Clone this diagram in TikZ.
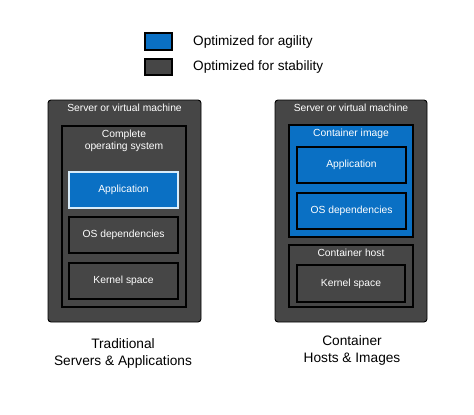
\documentclass[tikz,border=0pt]{standalone}
\usepackage{fontspec}
\setmainfont{Liberation Sans}
\usetikzlibrary{positioning}
\definecolor{agileblue}{HTML}{0A70C4}
\definecolor{stablegray}{HTML}{464646}
\definecolor{applight}{HTML}{D8ECFA}
\tikzset{
  layer/.style={draw=black, line width=1.3pt, inner sep=0pt, text=white,
    font=\fontsize{10.3}{12}\selectfont, align=center},
  agile/.style={layer, fill=agileblue},
  stable/.style={layer, fill=stablegray},
  server/.style={stable, line width=0.9pt, rounded corners=3pt},
  title/.style={text=white, font=\fontsize{10.3}{12}\selectfont, align=center, inner sep=0pt},
  legend/.style={font=\fontsize{13.6}{16}\selectfont, anchor=west, inner sep=0pt},
  caption/.style={font=\fontsize{13.7}{17}\selectfont, align=center, inner sep=0pt}
}
\begin{document}
\begin{tikzpicture}[x=1pt, y=-1pt]
  \useasboundingbox (0,0) rectangle (474,415);

  % legend
  \node[agile, minimum width=27pt, minimum height=17pt] (keyagile) at (158.5,41.5) {};
  \node[stable, minimum width=27pt, minimum height=16pt] (keystable) at (158.5,67) {};
  \node[legend] (txtagile) at (193,42) {Optimized for agility};
  \node[legend] (txtstable) at (193,67) {Optimized for stability};

  % traditional server
  \node[server, minimum width=153pt, minimum height=222pt] (srvL) at (124.5,211) {};
  \node[title, below=4pt of srvL.north] (srvLtitle) {Server or virtual machine};
  \node[stable, minimum width=124pt, minimum height=181pt] (osL) at (124,216.5) {};
  \node[title, below=4pt of osL.north] (osLtitle) {Complete\\operating system};
  \node[agile, draw=applight, minimum width=109pt, minimum height=36pt] (appL) at (123.5,190) {Application};
  \node[stable, minimum width=109pt, minimum height=36pt] (depL) at (123.5,235) {OS dependencies};
  \node[stable, minimum width=109pt, minimum height=36pt] (kernL) at (123.5,281) {Kernel space};

  % container server
  \node[server, minimum width=152pt, minimum height=222pt] (srvR) at (351,211) {};
  \node[title, below=4pt of srvR.north] (srvRtitle) {Server or virtual machine};
  \node[agile, minimum width=124pt, minimum height=112pt] (imgR) at (351,181) {};
  \node[title, below=4pt of imgR.north] (imgRtitle) {Container image};
  \node[agile, minimum width=109pt, minimum height=36pt] (appR) at (351.5,165) {Application};
  \node[agile, minimum width=109pt, minimum height=36pt] (depR) at (351.5,211) {OS dependencies};
  \node[stable, minimum width=124pt, minimum height=62pt] (hostR) at (351,276) {};
  \node[title, below=4pt of hostR.north] (hostRtitle) {Container host};
  \node[stable, minimum width=108pt, minimum height=37pt] (kernR) at (351,283.5) {Kernel space};

  % captions
  \node[caption] (capL) at (123,353) {Traditional\\Servers \& Applications};
  \node[caption] (capR) at (352,350) {Container\\Hosts \& Images};
\end{tikzpicture}
\end{document}
